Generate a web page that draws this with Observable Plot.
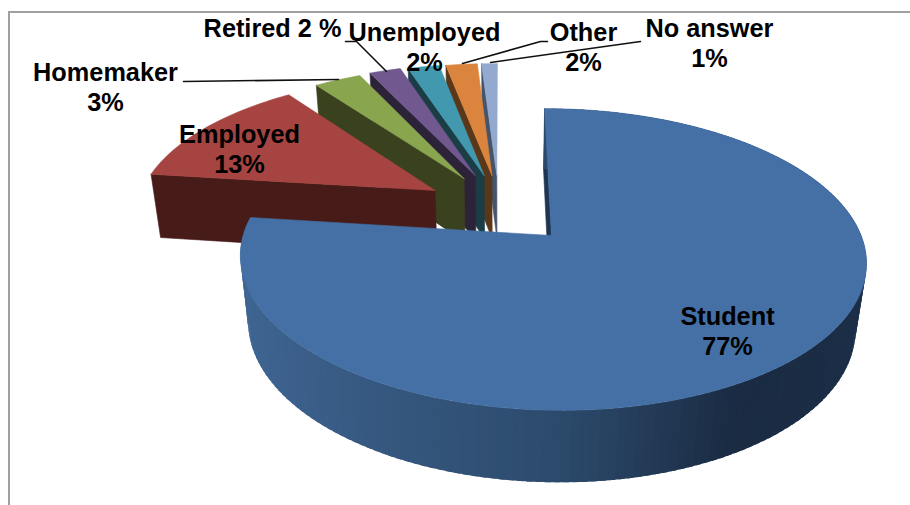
<!DOCTYPE html>
<html>
<head>
<meta charset="utf-8">
<style>
html,body{margin:0;padding:0;background:#fff;}
svg{display:block;}
</style>
<script src="https://cdn.jsdelivr.net/npm/d3@7"></script>
<script src="https://cdn.jsdelivr.net/npm/@observablehq/plot@0.6"></script>
</head>
<body>
<div id="chart"></div>
<script>
// --- data ---
const categories = ["Student","Employed","Homemaker","Retired","Unemployed","Other","No answer"];
const percents   = [77,13,3,2,2,2,1];
const labelTexts = ["Student\n77%","Employed\n13%","Homemaker\n3%","Retired 2 %","Unemployed\n2%","Other\n2%","No answer\n1%"];

// --- styling ---
const topColors  = ["#4470a5","#a64442","#89a54e","#71588f","#4198af","#db843d","#93a9cf"];
const wallColors = ["#1f3652","#461b18","#39411f","#2d2339","#1a3d46","#5a3718","#44546a"];
const rimStops   = ["#3f6693","#2c4a6c","#1a2b42","#1c2f48"];

// --- layout: explosion of each slice in the pie's plane, label anchors, leaders ---
const explodeU = [0,-0.388,-0.291,-0.253,-0.222,-0.195,-0.178];
const explodeV = [0,-0.322,-0.413,-0.4365,-0.4365,-0.4365,-0.4365];
const labelX = [727,239,105,272,424,583,709];
const labelY = [330,148,86,27,46,46,42];
const leaderNames = ["Homemaker","Retired","Other","No answer"];
const leaderX = [[183,338],[345,356,386],[462,540,547],[490,640]];
const leaderY = [[81,79],[41,41,71],[63,41,41],[62,41]];

// --- projection of the tilted pie onto the picture ---
const cam = {cx:551, cy:235, a:309, b:147, k:0.159, m:0.002, s:8, h:68, q:0.03, t:-1.5};
function project(u, v, z) {
  const den = 1 - cam.k * v - cam.m * u + cam.q * z;
  return {x: cam.cx + (cam.a * u + cam.s * v + cam.t * z) / den,
          y: cam.cy + (cam.b * v + cam.h * z) / den};
}

// --- build polygons from the values ---
const backPolys = [], rimPolys = [], frontPolys = [];
function addPoly(list, id, color, pts) {
  for (const p of [...pts, pts[0]]) list.push({id, color, x: p.x, y: p.y});
}
const rimColor = d3.scaleLinear().domain([-1,0,0.5,1]).range(rimStops).interpolate(d3.interpolateRgb);
const rad = d => d * Math.PI / 180;

let cum = 0;
const slices = percents.map((p, i) => {
  const start = cum * 3.6; cum += p; const end = cum * 3.6;
  return {i, start, end};
});
function edge(sl, deg, z) {
  return project(explodeU[sl.i] + Math.sin(rad(deg)), explodeV[sl.i] - Math.cos(rad(deg)), z);
}
function apex(sl, z) { return project(explodeU[sl.i], explodeV[sl.i], z); }

// painter's order: far slices first, Student last
for (const sl of [...slices].reverse()) {
  const name = categories[sl.i];
  const n = Math.ceil((sl.end - sl.start) / 1.5);
  const arc = j => sl.start + (sl.end - sl.start) * j / n;
  if (sl.i === 0) {
    addPoly(backPolys, name + "-wall", wallColors[0], [edge(sl, 0, 0), edge(sl, 0, 1), apex(sl, 1), apex(sl, 0)]);
    // rim, shaded segment by segment; each one overlaps the next so no seam shows
    for (let j = 0; j < n; j++) {
      const d0 = arc(j), d1 = Math.min(arc(j + 1) + 1, sl.end);
      const col = rimColor(Math.sin(rad((arc(j) + arc(j + 1)) / 2)));
      addPoly(rimPolys, name + "-rim" + j, col, [edge(sl, d0, 0), edge(sl, d1, 0), edge(sl, d1, 1), edge(sl, d0, 1)]);
    }
  } else {
    addPoly(backPolys, name + "-wall", wallColors[sl.i], [edge(sl, sl.start, 0), apex(sl, 0), apex(sl, 1), edge(sl, sl.start, 1)]);
  }
  const pts = [apex(sl, 0)];
  for (let j = 0; j <= n; j++) pts.push(edge(sl, arc(j), 0));
  addPoly(sl.i === 0 ? frontPolys : backPolys, name + "-top", topColors[sl.i], pts);
}

const labels = categories.map((c, i) => ({name: c, text: labelTexts[i], x: labelX[i], y: labelY[i]}));
const leaders = leaderNames.flatMap((n, i) => leaderX[i].map((x, j) => ({name: n, x, y: leaderY[i][j]})));

const polyMark = (list, sw) => Plot.line(list, {x: "x", y: "y", z: "id", fill: "color",
  stroke: sw ? "color" : "none", strokeWidth: sw, curve: "linear"});

const chart = Plot.plot({
  width: 910, height: 505,
  margin: 0,
  x: {domain: [0, 910], range: [0, 910], axis: null},
  y: {domain: [0, 505], range: [0, 505], axis: null},
  color: {type: "identity"},
  style: {background: "#fff"},
  marks: [
    Plot.ruleX([8.5], {y1: 11, y2: 505, stroke: "#a0a0a0", strokeWidth: 2}),
    Plot.ruleY([11.5], {x1: 8, x2: 910, stroke: "#a0a0a0", strokeWidth: 2}),
    polyMark(backPolys, 0.6),
    polyMark(rimPolys, 0),
    polyMark(frontPolys, 0.6),
    Plot.line(leaders, {x: "x", y: "y", z: "name", stroke: "#111", strokeWidth: 1.6, curve: "linear"}),
    Plot.text(labels, {x: "x", y: "y", text: "text", fontSize: 25.3, fontWeight: "bold",
      fontFamily: "'Liberation Sans', Arial, sans-serif", fill: "#000", lineHeight: 1.2, textAnchor: "middle", lineAnchor: "middle"})
  ]
});
document.getElementById("chart").appendChild(chart);
</script>
</body>
</html>
